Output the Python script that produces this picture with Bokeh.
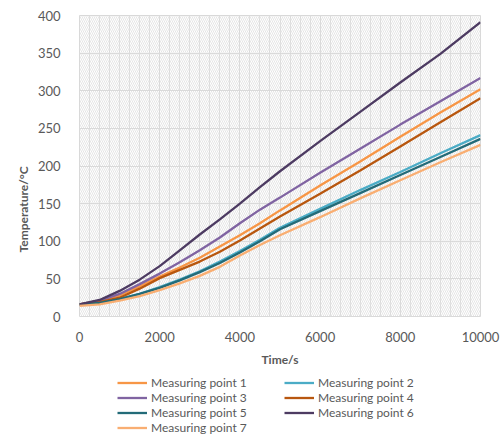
from bokeh.plotting import figure
from bokeh.layouts import column
from bokeh.models import (Range1d, SingleIntervalTicker, Legend, LegendItem, Title)
from bokeh.embed import file_html
from bokeh.resources import INLINE

time_s = [0, 500, 1000, 1500, 2000, 2500, 3000, 3500, 4000, 4500, 5000, 6000, 7000, 8000, 9000, 10000]
mp1 = [16, 21, 28, 40, 53, 65, 78, 93, 108, 124, 141, 174, 206, 239, 271, 302]
mp2 = [16, 18, 23, 30, 39, 49, 60, 73, 87, 102, 118, 143, 168, 192, 217, 241]
mp3 = [16, 21, 30, 43, 57, 72, 88, 105, 124, 142, 158, 191, 223, 255, 286, 317]
mp4 = [16, 19, 25, 37, 51, 62, 73, 86, 101, 117, 133, 163, 194, 226, 258, 290]
mp5 = [16, 18, 23, 30, 38, 48, 59, 71, 85, 100, 116, 140, 164, 188, 212, 236]
mp6 = [16, 22, 34, 49, 67, 88, 109, 129, 150, 172, 193, 233, 272, 311, 349, 391]
mp7 = [14, 16, 21, 27, 35, 44, 54, 66, 81, 95, 108, 132, 157, 181, 205, 228]

series_names = ["Measuring point 1", "Measuring point 2", "Measuring point 3",
                "Measuring point 4", "Measuring point 5", "Measuring point 6",
                "Measuring point 7"]
series_values = [mp1, mp2, mp3, mp4, mp5, mp6, mp7]
colors = ["#F79646", "#4BACC6", "#8064A2", "#B8570F", "#236B78", "#4D3B62", "#F9AE72"]

x_ticks_interval = 2000
y_ticks_interval = 50

FONT = "Lato"
GRAY = "#595959"

p = figure(frame_width=401, frame_height=301, output_backend="svg", toolbar_location=None,
           x_range=Range1d(0, 10000), y_range=Range1d(0, 400),
           min_border_left=79, min_border_right=20, min_border_top=15, min_border_bottom=52)
p.background_fill_color = "white"
p.border_fill_color = "white"
p.outline_line_color = "#d9d9d9"

# hatched plot-area background
p.quad(left=[0], right=[10000], bottom=[0], top=[400], fill_color=None, line_color=None,
       hatch_pattern="\\", hatch_color="#d4d4d4", hatch_scale=4, hatch_weight=0.6)

p.xaxis.ticker = SingleIntervalTicker(interval=x_ticks_interval, num_minor_ticks=8)
p.yaxis.ticker = SingleIntervalTicker(interval=y_ticks_interval)
p.xgrid.grid_line_color = "#dcdcdc"
p.xgrid.minor_grid_line_color = "#e2e2e2"
p.ygrid.grid_line_color = "#dcdcdc"

for ax in (p.xaxis, p.yaxis):
    ax.axis_line_color = None
    ax.major_tick_line_color = None
    ax.minor_tick_line_color = None
    ax.major_label_text_font = FONT
    ax.major_label_text_font_size = "13px"
    ax.major_label_text_color = GRAY
p.yaxis.major_label_standoff = 13
p.xaxis.major_label_standoff = 9
p.xaxis.axis_label = "Time/s"
p.xaxis.axis_label_text_font = FONT
p.xaxis.axis_label_text_font_style = "bold"
p.xaxis.axis_label_text_font_size = "12px"
p.xaxis.axis_label_text_color = GRAY
p.xaxis.axis_label_standoff = 7

p.add_layout(Title(text="Temperature/°C", align="left", offset=64, standoff=8,
                   text_font=FONT, text_font_style="bold", text_font_size="12px",
                   text_color=GRAY), "left")

for vals, c in zip(series_values, colors):
    p.line(time_s, vals, line_color=c, line_width=2.3)

# legend strip below the chart (its key lines lie outside its own visible range)
lg = figure(frame_width=500, frame_height=66, output_backend="svg", toolbar_location=None,
            x_axis_type=None, y_axis_type=None, x_range=Range1d(0, 1), y_range=Range1d(0, 1),
            min_border=0)
lg.outline_line_color = None
lg.xgrid.visible = False
lg.ygrid.visible = False
keys = [lg.line(x=time_s[-2:], y=vals[-2:], line_color=c, line_width=2.3)
        for vals, c in zip(series_values, colors)]

# two columns, filled column by column: 1,3,5,7 | 2,4,6
order = [0, 2, 4, 6, 1, 3, 5]
legend = Legend(items=[LegendItem(label=series_names[i], renderers=[keys[i]]) for i in order],
                ncols=2, location=(117, 0), border_line_color=None, background_fill_alpha=0,
                label_text_font=FONT, label_text_font_size="12px",
                label_text_color=GRAY, glyph_width=30, glyph_height=15,
                label_height=15, label_width=133, label_standoff=4,
                spacing=0, padding=0, margin=0)
lg.add_layout(legend, "center")

layout = column(p, lg, spacing=0)
open("out.html", "w").write(file_html(layout, INLINE))
